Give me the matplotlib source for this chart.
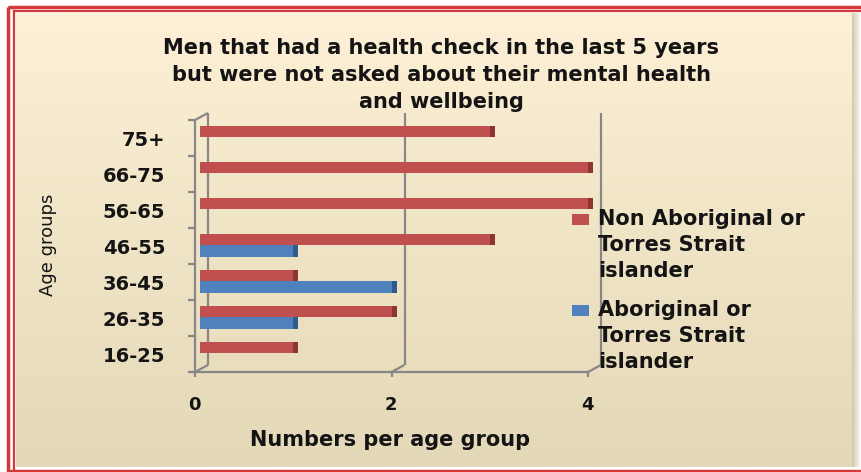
import matplotlib
matplotlib.use('Agg')
import matplotlib.pyplot as plt
import numpy as np
from matplotlib.colors import LinearSegmentedColormap
from matplotlib.patches import Rectangle
from matplotlib.transforms import ScaledTranslation

# Data
ages = ['16-25', '26-35', '36-45', '46-55', '56-65', '66-75', '75+']
non_aboriginal = [1, 2, 1, 3, 4, 4, 3]
aboriginal = [0, 1, 2, 1, 0, 0, 0]
labels = ['Non Aboriginal or\nTorres Strait\nislander',
          'Aboriginal or\nTorres Strait\nislander']
title = ('Men that had a health check in the last 5 years\n'
         'but were not asked about their mental health\nand wellbeing')

RED, RED_DARK = '#c0504d', '#8e3532'
BLUE, BLUE_DARK = '#4f81bd', '#2f5b8f'
GRAY = '#878787'
TXT = '#141414'

W, H = 861, 472
fig = plt.figure(figsize=(W / 100, H / 100), dpi=100)
fig.patch.set_facecolor('white')


def fx(px):
    return px / W


def fy(py):
    return 1 - py / H


# Background panel with gradient and red border
bg = fig.add_axes([0, 0, 1, 1], zorder=0)
bg.set_axis_off()
grad = np.linspace(0, 1, 256)[:, None]
cmap = LinearSegmentedColormap.from_list('bg', ['#fdf0d6', '#e3d8b7'])
bg.imshow(grad, extent=(16, 852, 467, 13), cmap=cmap, aspect='auto')
shade = np.linspace(0, 1, 64)[None, :]
bg.imshow(shade, extent=(852, 861, 467, 13), aspect='auto',
          cmap=LinearSegmentedColormap.from_list('sh', ['#cfc6ab', '#ffffff']))
bg.add_patch(Rectangle((7.5, 6.5), W, 464, fill=False, ec='#d43a3a', lw=2.5))
bg.plot([13.5, 13.5], [10.5, 470], color='#d43a3a', lw=1.6)
bg.plot([13.5, W], [10.5, 10.5], color='#d43a3a', lw=1.6)

# Main plot
ax = fig.add_axes([fx(200), fy(372), (593 - 200) / W, (372 - 120) / H], zorder=2)
ax.patch.set_alpha(0)
y = np.arange(len(ages))
na = np.array(non_aboriginal, dtype=float)
ab = np.array(aboriginal, dtype=float)
h = 0.33
ax.barh(y + 0.18, na, height=h, color=RED, lw=0, label=labels[0])
ax.barh(y - 0.15, ab, height=h, color=BLUE, lw=0, label=labels[1])
# darker end caps for the 3D look
cap = 0.05
m = na > 0
ax.barh(y[m] + 0.18, cap, left=na[m] - cap, height=h, color=RED_DARK, lw=0)
m = ab > 0
ax.barh(y[m] - 0.15, cap, left=ab[m] - cap, height=h, color=BLUE_DARK, lw=0)

ax.set_xlim(0, 4)
ax.set_ylim(-0.5, len(ages) - 0.5)
for s in ax.spines.values():
    s.set_visible(False)
ax.set_xticks([0, 2, 4])
ax.set_xticklabels(['0', '2', '4'], fontsize=13, fontweight='bold', color=TXT)
ax.set_yticks(y)
ax.set_yticklabels(ages, fontsize=14, fontweight='bold', color=TXT)
ax.tick_params(axis='x', length=0, pad=17)
ax.tick_params(axis='y', length=0, pad=25)
# x tick labels sit under the front edge of the floor
shift = ScaledTranslation(-6 / 100, 0, fig.dpi_scale_trans)
for lab in ax.get_xticklabels():
    lab.set_transform(lab.get_transform() + shift)

# 3D-ish frame drawn in pixel space of the background axes
fig.canvas.draw()


def to_px(xd, yd, dx=0, dy=0):
    dxp, dyp = ax.transData.transform((xd, yd))
    return dxp + dx, H - dyp + dy


ymin, ymax = ax.get_ylim()
front = (-5, 0)
back = (8, -7)
lk = dict(color=GRAY, lw=1.6, solid_capstyle='butt')
p0 = to_px(0, ymin, *front)
p1 = to_px(0, ymax, *front)
bg.plot([p0[0], p1[0]], [p0[1], p1[1]], **lk)
p2 = to_px(4, ymin, *front)
bg.plot([p0[0], p2[0]], [p0[1], p2[1]], **lk)
for xv in [0, 2, 4]:
    b0 = to_px(xv, ymin, *back)
    b1 = to_px(xv, ymax, *back)
    f0 = to_px(xv, ymin, *front)
    bg.plot([b0[0], b1[0]], [b0[1], b1[1]], **lk)
    bg.plot([f0[0], b0[0]], [f0[1], b0[1]], **lk)
    bg.plot([f0[0], f0[0]], [f0[1], f0[1] + 5], **lk)
t0 = to_px(0, ymax, *front)
t1 = to_px(0, ymax, *back)
bg.plot([t0[0], t1[0]], [t0[1], t1[1]], **lk)
for yb in np.arange(ymin, ymax + 0.01, 1.0):
    q = to_px(0, yb, *front)
    bg.plot([q[0] - 7, q[0]], [q[1], q[1]], **lk)

# Legend (manual, key aligned with first text line)
for i, (lab, col) in enumerate(zip(labels, [RED, BLUE])):
    ytop = 214 + i * 91
    bg.add_patch(Rectangle((572, ytop), 17, 11, color=col, lw=0))
    bg.text(598, ytop + 31, lab, ha='left', va='center', fontsize=15,
            fontweight='bold', linespacing=1.4, color=TXT)

bg.set_xlim(0, W)
bg.set_ylim(H, 0)

# Texts
fig.text(fx(441), fy(75), title, ha='center', va='center', fontsize=15,
         fontweight='bold', linespacing=1.42, color=TXT)
fig.text(fx(390), fy(440), 'Numbers per age group', ha='center', va='center',
         fontsize=15, fontweight='bold', color=TXT)
fig.text(fx(48), fy(245), 'Age groups', ha='center', va='center', rotation=90,
         fontsize=13, color=TXT)

fig.savefig('out.png', dpi=100)
